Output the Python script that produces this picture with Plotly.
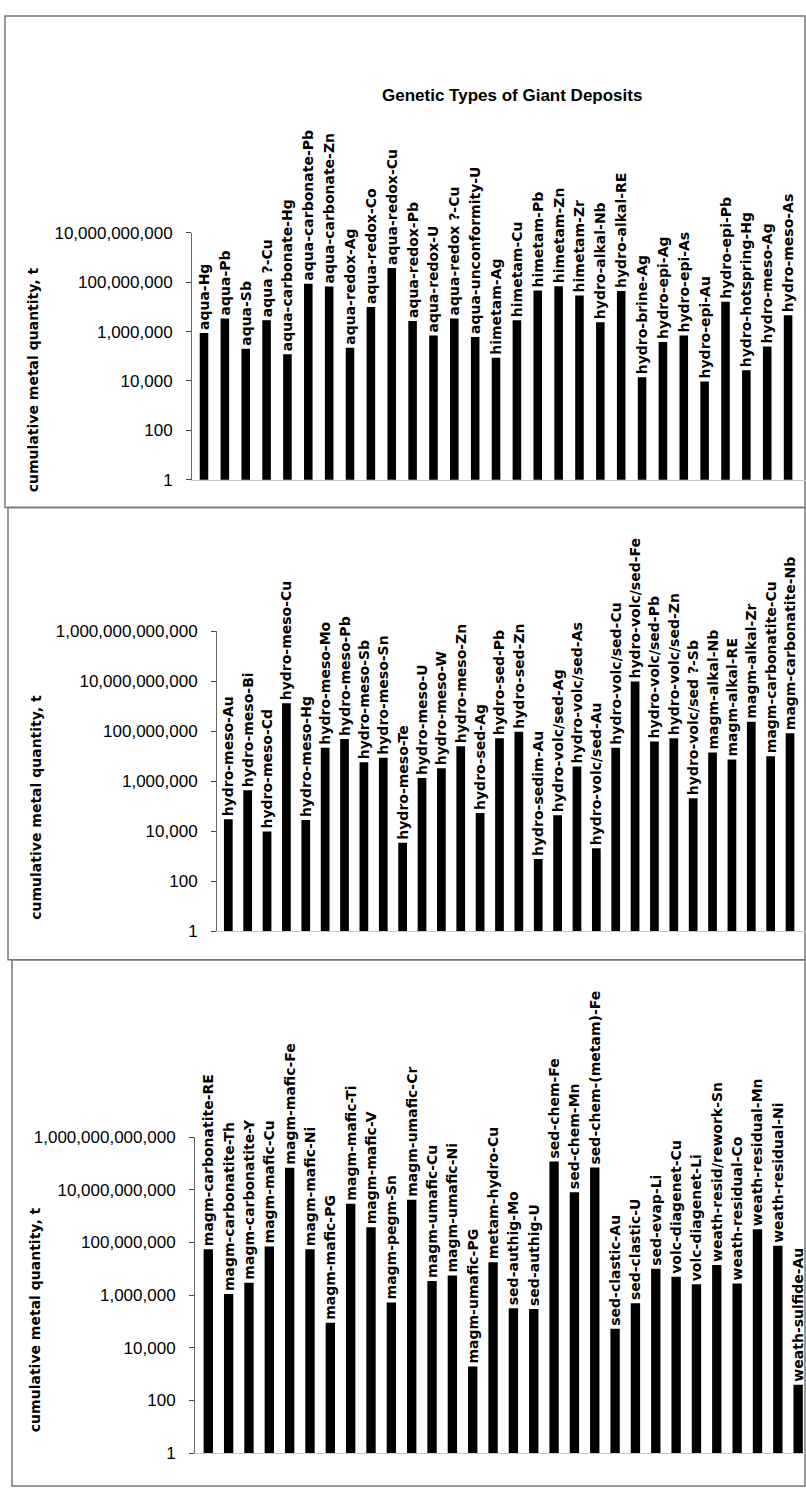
import plotly.graph_objects as go

W, H = 806, 1500

cats1 = ["aqua-Hg", "aqua-Pb", "aqua-Sb", "aqua ?-Cu", "aqua-carbonate-Hg", "aqua-carbonate-Pb",
         "aqua-carbonate-Zn", "aqua-redox-Ag", "aqua-redox-Co", "aqua-redox-Cu", "aqua-redox-Pb",
         "aqua-redox-U", "aqua-redox ?-Cu", "aqua-unconformity-U", "himetam-Ag", "himetam-Cu",
         "himetam-Pb", "himetam-Zn", "himetam-Zr", "hydro-alkal-Nb", "hydro-alkal-RE",
         "hydro-brine-Ag", "hydro-epi-Ag", "hydro-epi-As", "hydro-epi-Au", "hydro-epi-Pb",
         "hydro-hotspring-Hg", "hydro-meso-Ag", "hydro-meso-As"]
vals1 = [8.7e5, 3.4e6, 2e5, 2.9e6, 1.2e5, 8.7e7, 6.7e7, 2.2e5, 1e7, 3.8e8, 2.7e6, 6.9e5, 3.4e6,
         6e5, 8.7e4, 2.9e6, 4.6e7, 6.9e7, 2.9e7, 2.4e6, 4.4e7, 1.4e4, 3.8e5, 6.9e5, 9.5e3, 1.6e7,
         2.7e4, 2.5e5, 4.6e6]

cats2 = ["hydro-meso-Au", "hydro-meso-Bi", "hydro-meso-Cd", "hydro-meso-Cu", "hydro-meso-Hg",
         "hydro-meso-Mo", "hydro-meso-Pb", "hydro-meso-Sb", "hydro-meso-Sn", "hydro-meso-Te",
         "hydro-meso-U", "hydro-meso-W", "hydro-meso-Zn", "hydro-sed-Ag", "hydro-sed-Pb",
         "hydro-sed-Zn", "hydro-sedim-Au", "hydro-volc/sed-Ag", "hydro-volc/sed-As",
         "hydro-volc/sed-Au", "hydro-volc/sed-Cu", "hydro-volc/sed-Fe", "hydro-volc/sed-Pb",
         "hydro-volc/sed-Zn", "hydro-volc/sed ?-Sb", "magm-alkal-Nb", "magm-alkal-RE",
         "magm-alkal-Zr", "magm-carbonatite-Cu", "magm-carbonatite-Nb"]
vals2 = [3e4, 4.4e5, 9.8e3, 1.3e9, 2.8e4, 2.2e7, 4.9e7, 5.7e6, 8.7e6, 3.5e3, 1.35e6, 3.3e6, 2.5e7,
         5.4e4, 5.2e7, 9.5e7, 780, 4.4e4, 3.9e6, 2.1e3, 2.2e7, 9.6e9, 3.9e7, 5.2e7, 2.1e5, 1.4e7,
         7.4e6, 2.4e8, 1e7, 8.3e7]

cats3 = ["magm-carbonatite-RE", "magm-carbonatite-Th", "magm-carbonatite-Y", "magm-mafic-Cu",
         "magm-mafic-Fe", "magm-mafic-Ni", "magm-mafic-PG", "magm-mafic-Ti", "magm-mafic-V",
         "magm-pegm-Sn", "magm-umafic-Cr", "magm-umafic-Cu", "magm-umafic-Ni", "magm-umafic-PG",
         "metam-hydro-Cu", "sed-authig-Mo", "sed-authig-U", "sed-chem-Fe", "sed-chem-Mn",
         "sed-chem-(metam)-Fe", "sed-clastic-Au", "sed-clastic-U", "sed-evap-Li",
         "volc-diagenet-Cu", "volc-diagenet-Li", "weath-resid/rework-Sn", "weath-residual-Co",
         "weath-residual-Mn", "weath-residual-Ni", "weath-sulfide-Au"]
vals3 = [5.6e7, 1.1e6, 3e6, 7.1e7, 7e10, 5.6e7, 8.9e4, 3e9, 3.8e8, 5.3e5, 4.2e9, 3.5e6, 5.6e6,
         1.95e3, 1.8e7, 3.2e5, 3e5, 1.2e11, 8.2e9, 7.1e10, 5.3e4, 5e5, 1e7, 5e6, 2.6e6, 1.4e7,
         2.8e6, 3.2e8, 7.5e7, 400]

tick_vals = [1, 1e2, 1e4, 1e6, 1e8, 1e10, 1e12]
tick_text = ["1", "100", "10,000", "1,000,000", "100,000,000", "10,000,000,000",
             "1,000,000,000,000"]

chart_title = "Genetic Types of Giant Deposits"
y_title = "cumulative metal quantity, t"

# layout per panel: (axis px x, first cat px, spacing px, top px, bottom px, decades, bar width)
panels = [
    (cats1, vals1, 192, 204.0, 20.86, 226.7, 476.7, 10, 0.41),
    (cats2, vals2, 217, 228.3, 19.37, 630.0, 934.3, 12, 0.45),
    (cats3, vals3, 195, 208.3, 20.34, 1142.7, 1462.7, 12, 0.46),
]

LABEL_FONT = dict(family="DejaVu Sans", size=14, color="black", weight="bold")
TICK_FONT = dict(family="Liberation Sans, Arial", size=17, color="black")

fig = go.Figure()
layout = dict(width=W, height=H, margin=dict(l=0, r=0, t=0, b=0),
              paper_bgcolor="white", plot_bgcolor="white", showlegend=False,
              font=dict(family="Liberation Sans, Arial", color="black"))

for i, (cats, vals, ax_px, c0, sp, top, bot, dec, bw) in enumerate(panels, start=1):
    xa = "x" if i == 1 else f"x{i}"
    ya = "y" if i == 1 else f"y{i}"
    fig.add_trace(go.Bar(
        x=list(range(len(cats))), y=vals, text=cats,
        textposition="outside", textangle=-90, cliponaxis=False, constraintext="none",
        textfont=LABEL_FONT, marker=dict(color="black", line=dict(width=0)),
        width=bw, xaxis=xa, yaxis=ya, hoverinfo="skip"))
    left = (ax_px - c0) / sp
    right = (W - c0) / sp
    kx = "xaxis" if i == 1 else f"xaxis{i}"
    ky = "yaxis" if i == 1 else f"yaxis{i}"
    layout[kx] = dict(domain=[ax_px / W, 1.0], range=[left, right], showticklabels=False,
                      ticks="", showgrid=False, zeroline=False, showline=True,
                      linecolor="#c8c8c8", linewidth=1, anchor=ya)
    tv = [t for t in tick_vals if t <= 10 ** dec]
    layout[ky] = dict(domain=[1 - bot / H, 1 - top / H], type="log", range=[0, dec],
                      tickvals=tv, ticktext=tick_text[:len(tv)], ticks="outside", ticklen=5,
                      tickcolor="#444", tickfont=TICK_FONT, showgrid=False, zeroline=False,
                      showline=True, linecolor="#666", linewidth=1, anchor=xa,
                      ticklabelstandoff=10)

fig.update_layout(**layout)

# Y-axis titles
ytitle_pos = [(33, 376), (36, 809), (35, 1328)]
for (xp, yp) in ytitle_pos:
    fig.add_annotation(x=xp / W, y=1 - yp / H, xref="paper", yref="paper", text=y_title,
                       textangle=-90, showarrow=False, xanchor="center", yanchor="middle",
                       font=dict(family="DejaVu Sans", size=14, color="black", weight="bold"))

fig.add_annotation(x=512 / W, y=1 - 88 / H, xref="paper", yref="paper", text=chart_title,
                   showarrow=False, xanchor="center", yanchor="middle",
                   font=dict(family="Liberation Sans, Arial", size=17, color="black",
                             weight="bold"))

# panel frames
frames = [(5, 7, 505), (8, 505, 963), (12, 963, 1496)]
for (x0, y0, y1) in frames:
    fig.add_shape(type="rect", xref="paper", yref="paper", x0=x0 / W, x1=805 / W,
                  y0=1 - y1 / H, y1=1 - y0 / H, line=dict(color="#777", width=1.5),
                  fillcolor="rgba(0,0,0,0)", layer="below")

fig.write_html("out.html",
               config={"displayModeBar": False},
               post_script="document.body.style.margin='0';"
                           "document.body.style.padding='0';"
                           "document.body.style.overflow='hidden';"
                           "document.documentElement.style.overflow='hidden';")
